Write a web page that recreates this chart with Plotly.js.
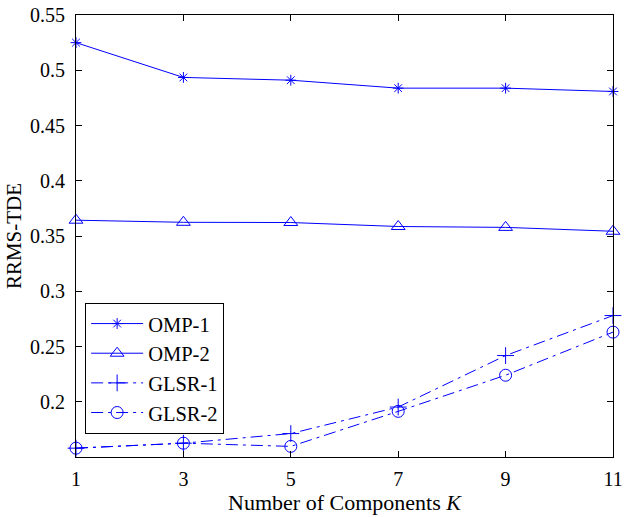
<!DOCTYPE html>
<html>
<head>
<meta charset="utf-8">
<script src="https://cdn.plot.ly/plotly-3.0.1.min.js"></script>
<style>
  html, body { margin: 0; padding: 0; background: #fff; }
  #chart { width: 624px; height: 517px; }
</style>
</head>
<body>
<div id="chart"></div>
<script>
// Number of components K
const components = [1, 3, 5, 7, 9, 11];

// RRMS-TDE for each method
const omp1  = [0.525, 0.4935, 0.491, 0.4838, 0.4838, 0.4808];
const omp2  = [0.3643, 0.3624, 0.3622, 0.3586, 0.3578, 0.3543];
const glsr1 = [0.158, 0.1625, 0.1712, 0.1952, 0.2418, 0.2780];
const glsr2 = [0.158, 0.1625, 0.1596, 0.1913, 0.2240, 0.2630];

const yTicks = [0.2, 0.25, 0.3, 0.35, 0.4, 0.45, 0.5, 0.55];
const xTicks = [1, 3, 5, 7, 9, 11];

const blue = 'rgb(0,0,255)';
const dashDot = '12px,5px,3px,5px';

function series(name, y, symbol, size, dash) {
  return {
    x: components, y: y, name: name, type: 'scatter', mode: 'lines+markers',
    line: { color: blue, width: 1, dash: dash },
    marker: { symbol: symbol, size: size, color: blue, line: { color: blue, width: 1 } },
    cliponaxis: false
  };
}

const traces = [
  series('OMP-1', omp1, 'asterisk-open', 9, 'solid'),
  series('OMP-2', omp2, 'triangle-up-open', 12, 'solid'),
  series('GLSR-1', glsr1, 'cross-thin-open', 12, dashDot),
  series('GLSR-2', glsr2, 'circle-open', 12, dashDot)
];

const serif = '"Liberation Serif", "Times New Roman", serif';
const f = size => ({ family: serif, size: size, color: '#000' });

const layout = {
  width: 624, height: 517,
  margin: { l: 76, r: 11, t: 15, b: 60 },
  paper_bgcolor: '#fff', plot_bgcolor: '#fff',
  font: f(20),
  showlegend: true,
  legend: {
    x: 0.017, y: 0.349, xanchor: 'left', yanchor: 'top',
    bordercolor: '#000', borderwidth: 1, bgcolor: '#fff',
    font: f(20.5), itemwidth: 52,
    tracegroupgap: 0
  },
  xaxis: {
    range: [1, 11], tickvals: xTicks, ticktext: xTicks.map(String),
    ticks: 'inside', ticklen: 6, tickcolor: '#000', tickwidth: 1,
    showline: true, linecolor: '#000', linewidth: 1, mirror: 'ticks',
    showgrid: false, zeroline: false,
    tickfont: f(20), ticklabelstandoff: 4,
    title: { text: 'Number of Components <i>K</i>', font: f(22), standoff: 4 }
  },
  yaxis: {
    range: [0.15, 0.55], tickvals: yTicks, ticktext: yTicks.map(v => String(v)),
    ticks: 'inside', ticklen: 6, tickcolor: '#000', tickwidth: 1,
    showline: true, linecolor: '#000', linewidth: 1, mirror: 'ticks',
    showgrid: false, zeroline: false,
    tickfont: f(20), ticklabelstandoff: 6,
    title: { text: 'RRMS-TDE', font: f(21), standoff: 2 }
  }
};

Plotly.newPlot('chart', traces, layout, { displayModeBar: false, staticPlot: true });
</script>
</body>
</html>
